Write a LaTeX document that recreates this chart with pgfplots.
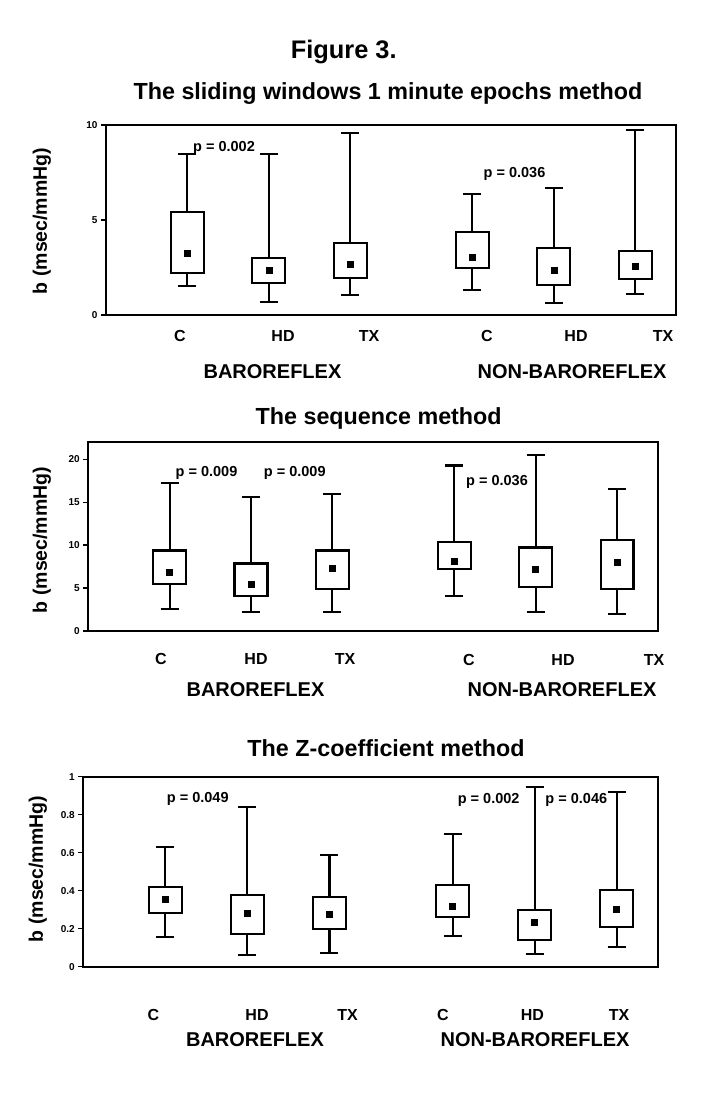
\documentclass[border=0pt]{standalone}
\usepackage{fontspec}
\setmainfont{Liberation Sans}
\usepackage{pgfplots}
\pgfplotsset{compat=1.18}
\usepgfplotslibrary{statistics}

\pgfplotsset{
  panel/.style={
    scale only axis, anchor=south west,
    xmin=0, xmax=7, ymin=0,
    xtick=\empty,
    ytick pos=left, tick align=outside, major tick length=5pt,
    axis line style={line width=2.2pt},
    every tick/.style={line width=1.2pt, black},
    /pgf/number format/assume math mode=true,
    yticklabel style={font=\bfseries\fontsize{10}{10}\selectfont},
    clip=false,
    boxplot/draw direction=y,
    boxplot/box extend=0.405,
    boxplot/whisker extend=0.22,
    boxplot/draw/median/.code={},
    boxplot/every whisker/.style={line width=2.1pt, black},
    boxplot/every box/.style={line width=2.1pt, black, fill=white},
  },
  bx/.style={black, line width=2.1pt, fill=white, solid, mark=none},
  mn/.style={only marks, mark=square*, mark size=3pt, black, line width=0.4pt},
}

\newcommand{\txt}[4]{\node[anchor=base, inner sep=0pt, font=\bfseries\fontsize{#1}{#1}\selectfont] at (#2pt,1102pt-#3pt) {#4};}
\newcommand{\bxp}[6]{\addplot[bx, boxplot prepared={draw position=#1, lower whisker=#2, lower quartile=#3, median=#6, upper quartile=#4, upper whisker=#5}] coordinates {};}

\begin{document}
\begin{tikzpicture}
\fill[white] (0,0) rectangle (721pt,1102pt);
\path[use as bounding box] (0,0) rectangle (721pt,1102pt);

% ---------- Panel 1 ----------
\begin{axis}[panel, at={(106pt,787pt)}, width=570pt, height=190pt,
  ymax=10, ytick={0,5,10}]
\bxp{1}{1.53}{2.19}{5.42}{8.45}{3.23}
\bxp{2}{0.67}{1.67}{3.02}{8.47}{2.38}
\bxp{3}{1.04}{1.95}{3.77}{9.56}{2.67}
\bxp{4.5}{1.30}{2.47}{4.39}{6.35}{3.04}
\bxp{5.5}{0.63}{1.56}{3.53}{6.70}{2.38}
\bxp{6.5}{1.09}{1.89}{3.39}{9.74}{2.58}
\addplot[mn] coordinates {(1,3.23) (2,2.38) (3,2.67) (4.5,3.04) (5.5,2.38) (6.5,2.58)};
\end{axis}

% ---------- Panel 2 ----------
\begin{axis}[panel, at={(88.3pt,471pt)}, width=569.4pt, height=189pt,
  ymax=22, ytick={0,5,10,15,20}]
\bxp{1}{2.57}{5.44}{9.37}{17.23}{6.89}
\bxp{2}{2.22}{4.04}{7.86}{15.6}{5.44}
\bxp{3}{2.22}{4.90}{9.37}{15.99}{7.27}
\bxp{4.5}{4.09}{7.19}{10.34}{19.26}{8.17}
\bxp{5.5}{2.22}{5.17}{9.72}{20.5}{7.16}
\bxp{6.5}{1.94}{4.94}{10.62}{16.5}{8.01}
\addplot[mn] coordinates {(1,6.89) (2,5.44) (3,7.27) (4.5,8.17) (5.5,7.16) (6.5,8.01)};
\end{axis}

% ---------- Panel 3 ----------
\begin{axis}[panel, at={(83.3pt,135.3pt)}, width=574.4pt, height=190pt,
  ymax=1, ytick={0,0.2,0.4,0.6,0.8,1}]
\bxp{1}{0.158}{0.281}{0.419}{0.632}{0.353}
\bxp{2}{0.063}{0.170}{0.379}{0.841}{0.284}
\bxp{3}{0.070}{0.197}{0.368}{0.586}{0.274}
\bxp{4.5}{0.160}{0.262}{0.428}{0.698}{0.316}
\bxp{5.5}{0.065}{0.140}{0.300}{0.947}{0.235}
\bxp{6.5}{0.102}{0.209}{0.404}{0.918}{0.300}
\addplot[mn] coordinates {(1,0.353) (2,0.284) (3,0.274) (4.5,0.316) (5.5,0.235) (6.5,0.300)};
\end{axis}

% ---------- Titles ----------
\txt{25.4}{343.7}{59}{Figure 3.}
\txt{23.3}{388}{100}{The sliding windows 1 minute epochs method}
\txt{23.3}{378.7}{425}{The sequence method}
\txt{23.3}{386}{757}{The Z-coefficient method}

% ---------- p values ----------
\txt{14.5}{224}{151.7}{p = 0.002}
\txt{14.5}{514.5}{177.7}{p = 0.036}
\txt{14.5}{206.5}{477}{p = 0.009}
\txt{14.5}{294.8}{477}{p = 0.009}
\txt{14.5}{497}{486}{p = 0.036}
\txt{14.5}{197.8}{803}{p = 0.049}
\txt{14.5}{488.7}{803.3}{p = 0.002}
\txt{14.5}{576.3}{803.3}{p = 0.046}

% ---------- category labels ----------
\txt{16}{180}{342}{C}
\txt{16}{283}{342}{HD}
\txt{16}{369}{342}{TX}
\txt{16}{487}{342}{C}
\txt{16}{576}{342}{HD}
\txt{16}{663}{342}{TX}
\txt{20}{272.5}{379}{BAROREFLEX}
\txt{20}{572}{379}{NON-BAROREFLEX}

\txt{16}{161}{665}{C}
\txt{16}{256}{665}{HD}
\txt{16}{345}{665}{TX}
\txt{16}{469}{666}{C}
\txt{16}{563}{666}{HD}
\txt{16}{654}{666}{TX}
\txt{20}{255.5}{697}{BAROREFLEX}
\txt{20}{562}{697}{NON-BAROREFLEX}

\txt{16}{153.5}{1021}{C}
\txt{16}{257}{1021}{HD}
\txt{16}{347.6}{1021}{TX}
\txt{16}{443}{1021}{C}
\txt{16}{532.4}{1021}{HD}
\txt{16}{619}{1021}{TX}
\txt{20}{255}{1047}{BAROREFLEX}
\txt{20}{535}{1047}{NON-BAROREFLEX}

% ---------- y labels ----------
\node[rotate=90, inner sep=0pt, font=\bfseries\fontsize{19.5}{19.5}\selectfont] at (42pt,1102pt-221pt) {b (msec/mmHg)};
\node[rotate=90, inner sep=0pt, font=\bfseries\fontsize{19.5}{19.5}\selectfont] at (42pt,1102pt-540pt) {b (msec/mmHg)};
\node[rotate=90, inner sep=0pt, font=\bfseries\fontsize{19.5}{19.5}\selectfont] at (38pt,1102pt-869pt) {b (msec/mmHg)};
\end{tikzpicture}
\end{document}
